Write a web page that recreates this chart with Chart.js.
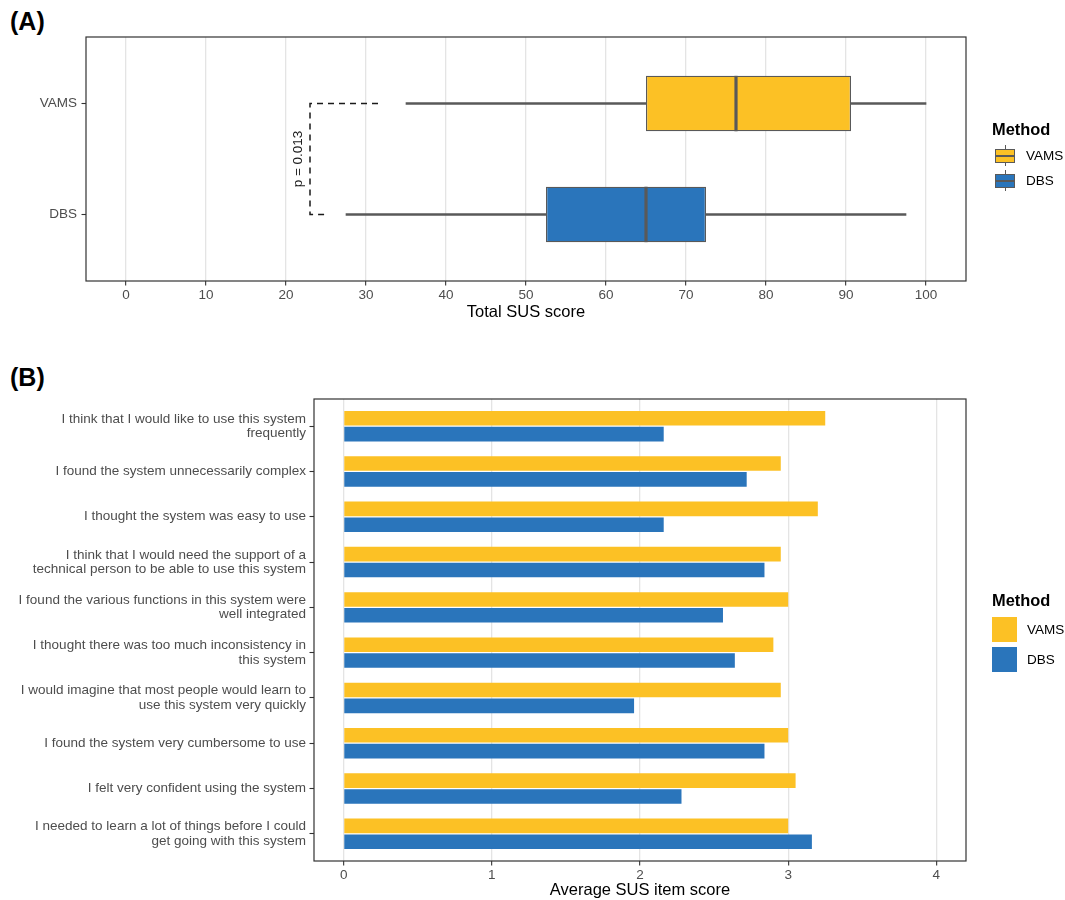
<!DOCTYPE html>
<html><head><meta charset="utf-8">
<script src="https://cdn.jsdelivr.net/npm/chart.js@4.4.1/dist/chart.umd.min.js"></script>
<style>
body{margin:0;background:#fff;width:1065px;height:900px;position:relative;overflow:hidden;font-family:"Liberation Sans",Arial,sans-serif;}
canvas{position:absolute;left:0;}
.tag{position:absolute;font-weight:bold;font-size:25px;line-height:25px;color:#000;}
.lg-title{position:absolute;font-weight:bold;font-size:16.4px;line-height:18px;color:#000;}
.lg-label{position:absolute;font-size:13.5px;line-height:16px;color:#000;}
.abs{position:absolute;box-sizing:border-box;}
</style></head><body>
<div class="tag" style="left:10px;top:9px">(A)</div>
<canvas id="chartA" width="1065" height="330" style="top:0"></canvas>
<div class="tag" style="left:10px;top:365px">(B)</div>
<canvas id="chartB" width="1065" height="560" style="top:340px"></canvas>
<div id="legends"></div>
<script>
// ---------- data ----------
const boxCategories = ['VAMS', 'DBS'];
const boxMin    = [35, 27.5];
const boxQ1     = [65, 52.5];
const boxMedian = [76.25, 65];
const boxQ3     = [90.625, 72.5];
const boxMax    = [100, 97.5];
const susTicks  = [0, 10, 20, 30, 40, 50, 60, 70, 80, 90, 100];
const bracketAt = 23;
const bracketTips = [31.5, 25];
const pValueLabel = 'p = 0.013';

const itemLabels = [
  ['I think that I would like to use this system', 'frequently'],
  'I found the system unnecessarily complex',
  'I thought the system was easy to use',
  ['I think that I would need the support of a', 'technical person to be able to use this system'],
  ['I found the various functions in this system were', 'well integrated'],
  ['I thought there was too much inconsistency in', 'this system'],
  ['I would imagine that most people would learn to', 'use this system very quickly'],
  'I found the system very cumbersome to use',
  'I felt very confident using the system',
  ['I needed to learn a lot of things before I could', 'get going with this system']
];
const vamsScores = [3.25, 2.95, 3.2, 2.95, 3.0, 2.9, 2.95, 3.0, 3.05, 3.0];
const dbsScores  = [2.16, 2.72, 2.16, 2.84, 2.56, 2.64, 1.96, 2.84, 2.28, 3.16];
const itemTicks  = [0, 1, 2, 3, 4];
const methodNames  = ['VAMS', 'DBS'];
const methodColors = ['#FCC125', '#2A75BB'];

// ---------- styling ----------
const ink = '#333333', tickInk = '#4d4d4d', gridInk = '#e4e4e4', outline = '#595959';
const tickSize = 13.5, titleSize = 16.5;
Chart.defaults.font.family = '"Liberation Sans", Arial, sans-serif';
Chart.defaults.color = tickInk;

const panelBorder = {
  id: 'panelBorder',
  afterDraw(chart) {
    const {ctx, chartArea: a} = chart;
    ctx.save();
    ctx.strokeStyle = ink; ctx.lineWidth = 1.2;
    ctx.strokeRect(a.left, a.top, a.right - a.left, a.bottom - a.top);
    ctx.restore();
  }
};

const boxExtras = {
  id: 'boxExtras',
  afterDatasetsDraw(chart) {
    const ctx = chart.ctx, xs = chart.scales.x, ys = chart.scales.y;
    const meta = chart.getDatasetMeta(0);
    ctx.save();
    ctx.strokeStyle = outline; ctx.lineWidth = 3.2;
    meta.data.forEach((bar, i) => {
      const {y, height} = bar.getProps(['y', 'height'], true);
      const px = xs.getPixelForValue(boxMedian[i]);
      ctx.beginPath(); ctx.moveTo(px, y - height / 2); ctx.lineTo(px, y + height / 2); ctx.stroke();
    });
    ctx.translate(xs.getPixelForValue(bracketAt) - 12, ys.getPixelForValue(1.5));
    ctx.rotate(-Math.PI / 2);
    ctx.fillStyle = '#1a1a1a';
    ctx.font = tickSize + 'px "Liberation Sans", Arial, sans-serif';
    ctx.textAlign = 'center'; ctx.textBaseline = 'middle';
    ctx.fillText(pValueLabel, 0, 0);
    ctx.restore();
  }
};

// ---------- chart A: box plot ----------
new Chart(document.getElementById('chartA'), {
  type: 'bar',
  data: {
    datasets: [
      {
        label: 'box',
        data: boxCategories.map((c, i) => ({x: [boxQ1[i], boxQ3[i]], y: i + 1})),
        backgroundColor: methodColors, borderColor: outline, borderWidth: 1.3, borderSkipped: false,
        grouped: false, categoryPercentage: 0.5, barPercentage: 1, order: 0
      },
      {
        label: 'lower whisker',
        data: boxCategories.map((c, i) => ({x: [boxMin[i], boxQ1[i]], y: i + 1})),
        backgroundColor: outline, borderWidth: 0, barThickness: 1.7, grouped: false, order: 2
      },
      {
        label: 'upper whisker',
        data: boxCategories.map((c, i) => ({x: [boxQ3[i], boxMax[i]], y: i + 1})),
        backgroundColor: outline, borderWidth: 0, barThickness: 1.7, grouped: false, order: 2
      },
      {
        type: 'line', label: 'bracket',
        data: [{x: bracketTips[0], y: 1}, {x: bracketAt, y: 1}, {x: bracketAt, y: 2}, {x: bracketTips[1], y: 2}],
        borderColor: '#1a1a1a', borderWidth: 1.5, borderDash: [6, 5], pointRadius: 0, fill: false, tension: 0, order: 1
      }
    ]
  },
  options: {
    indexAxis: 'y', responsive: false, animation: false, devicePixelRatio: 1,
    layout: {padding: {left: 0, top: 37, right: 99, bottom: 0}},
    plugins: {legend: {display: false}, tooltip: {enabled: false}},
    scales: {
      x: {
        type: 'linear', min: -5, max: 105, offset: false,
        afterBuildTicks: s => { s.ticks = susTicks.map(v => ({value: v})); },
        afterFit: s => { s.height = 49; },
        grid: {color: gridInk, lineWidth: 1.3, tickColor: ink, tickLength: 4.5, tickWidth: 1.1, offset: false},
        border: {display: false},
        ticks: {color: tickInk, font: {size: tickSize}, padding: 2, maxRotation: 0, autoSkip: false},
        title: {display: true, text: 'Total SUS score', color: '#000', font: {size: titleSize}, padding: {top: 0, bottom: 8}}
      },
      y: {
        type: 'linear', min: 0.4, max: 2.6, reverse: true, offset: false,
        afterBuildTicks: s => { s.ticks = boxCategories.map((c, i) => ({value: i + 1})); },
        afterFit: s => { s.width = 86; },
        grid: {drawOnChartArea: false, tickColor: ink, tickLength: 4.5, tickWidth: 1.1, offset: false},
        border: {display: false},
        ticks: {color: tickInk, font: {size: tickSize}, padding: 4.5, autoSkip: false,
                callback: v => boxCategories[v - 1]}
      }
    }
  },
  plugins: [boxExtras, panelBorder]
});

// ---------- chart B: grouped bars ----------
new Chart(document.getElementById('chartB'), {
  type: 'bar',
  data: {
    datasets: methodNames.map((name, k) => ({
      label: name,
      data: (k === 0 ? vamsScores : dbsScores).map((v, i) => ({x: v, y: i + 1})),
      backgroundColor: methodColors[k], borderWidth: 0,
      categoryPercentage: 0.7, barPercentage: 0.92
    }))
  },
  options: {
    indexAxis: 'y', responsive: false, animation: false, devicePixelRatio: 1,
    layout: {padding: {left: 0, top: 59, right: 99, bottom: 0}},
    plugins: {legend: {display: false}, tooltip: {enabled: false}},
    scales: {
      x: {
        type: 'linear', min: -0.2, max: 4.2, offset: false,
        afterBuildTicks: s => { s.ticks = itemTicks.map(v => ({value: v})); },
        afterFit: s => { s.height = 39; },
        grid: {color: gridInk, lineWidth: 1.3, tickColor: ink, tickLength: 4.5, tickWidth: 1.1, offset: false},
        border: {display: false},
        ticks: {color: tickInk, font: {size: tickSize}, padding: 2, maxRotation: 0, autoSkip: false},
        title: {display: true, text: 'Average SUS item score', color: '#000', font: {size: titleSize}, padding: {top: 0, bottom: 0}}
      },
      y: {
        type: 'linear', min: 0.4, max: itemLabels.length + 0.6, reverse: true, offset: false,
        afterBuildTicks: s => { s.ticks = itemLabels.map((c, i) => ({value: i + 1})); },
        afterFit: s => { s.width = 314; },
        grid: {drawOnChartArea: false, tickColor: ink, tickLength: 4.5, tickWidth: 1.1, offset: false},
        border: {display: false},
        ticks: {color: tickInk, font: {size: tickSize, lineHeight: 1.07}, padding: 3.5, autoSkip: false,
                callback: v => itemLabels[v - 1]}
      }
    }
  },
  plugins: [panelBorder]
});

// ---------- legends ----------
(function () {
  const host = document.getElementById('legends');
  const add = (cls, css, text) => { const d = document.createElement('div'); d.className = cls; d.style.cssText = css; if (text) d.textContent = text; host.appendChild(d); return d; };
  add('lg-title', 'left:992px;top:119.5px', 'Method');
  methodNames.forEach((name, k) => {
    const top = 149 + k * 25;
    add('abs', `left:1004.5px;top:${top - 4}px;width:1.2px;height:4px;background:${outline}`);
    add('abs', `left:1004.5px;top:${top + 13}px;width:1.2px;height:4px;background:${outline}`);
    add('abs', `left:995px;top:${top}px;width:20px;height:13.5px;background:${methodColors[k]};border:1.2px solid ${outline}`);
    add('abs', `left:995px;top:${top + 5.5}px;width:20px;height:2.4px;background:${outline}`);
    add('lg-label', `left:1026px;top:${top - 1.5}px`, name);
  });
  add('lg-title', 'left:992px;top:590.5px', 'Method');
  methodNames.forEach((name, k) => {
    const top = 617 + k * 30;
    add('abs', `left:992px;top:${top}px;width:25px;height:25px;background:${methodColors[k]}`);
    add('lg-label', `left:1027px;top:${top + 4.5}px`, name);
  });
})();
</script>
</body></html>
